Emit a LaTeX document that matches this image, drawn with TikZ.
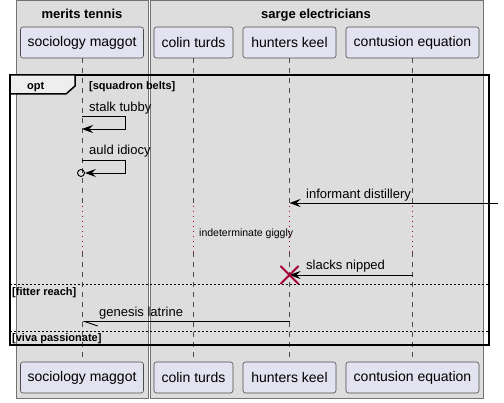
\documentclass[tikz,border=0pt]{standalone}
\usepackage{fontspec}
\setmainfont{Liberation Sans}
\usetikzlibrary{arrows.meta}

\definecolor{boxgray}{HTML}{DDDDDD}
\definecolor{tabgray}{HTML}{EEEEEE}
\definecolor{partfill}{HTML}{E2E2F0}
\definecolor{delayred}{HTML}{A80036}

\tikzset{
  grp/.style={draw=gray!90!black, fill=boxgray, line width=0.8pt},
  ttl/.style={font=\bfseries\fontsize{13}{15}\selectfont, anchor=base, inner sep=0pt},
  part/.style={draw=gray!60!black, fill=partfill, rounded corners=2.5pt, line width=0.6pt,
    minimum height=31pt, inner sep=0pt, font=\fontsize{14}{16}\selectfont},
  life/.style={gray!60!black, line width=0.6pt, dash pattern=on 5pt off 5pt},
  delay/.style={delayred, line width=0.9pt, dash pattern=on 1pt off 4pt},
  frm/.style={black, line width=1.5pt},
  sep/.style={black, line width=0.7pt, dash pattern=on 2pt off 2pt},
  grd/.style={font=\bfseries\fontsize{11}{13}\selectfont, anchor=base west, inner sep=0pt},
  lbl/.style={font=\fontsize{13}{15}\selectfont, anchor=base west, inner sep=0pt},
  msg/.style={line width=0.9pt, -{Stealth[length=11pt,width=8pt,inset=4pt]}},
  halfmsg/.style={line width=0.9pt, -{Straight Barb[left,length=13pt,width=9pt]}},
  kill/.style={delayred, line width=1.8pt},
}

\begin{document}
\begin{tikzpicture}[x=1pt,y=-1pt]
\useasboundingbox (0,0) rectangle (504,403);

% Boxes
\draw[grp] (16,0.5) rectangle (148,398);
\draw[grp] (150,0.5) rectangle (483,398);
\node[ttl] (mt) at (82,18.5) {merits tennis};
\node[ttl] (se) at (316,18.5) {sarge electricians};

% Participants
\node[part, minimum width=123pt] (sm) at (82,42.5) {sociology maggot};
\node[part, minimum width=79pt] (ct) at (193.5,42.5) {colin turds};
\node[part, minimum width=93pt] (hk) at (289.5,42.5) {hunters keel};
\node[part, minimum width=133pt] (ce) at (412.5,42.5) {contusion equation};
\node[part, minimum width=123pt] (smb) at (82,377.5) {sociology maggot};
\node[part, minimum width=79pt] (ctb) at (193.5,377.5) {colin turds};
\node[part, minimum width=93pt] (hkb) at (289.5,377.5) {hunters keel};
\node[part, minimum width=133pt] (ceb) at (412.5,377.5) {contusion equation};

% Rows
\coordinate (d1) at (0,206);
\coordinate (d2) at (0,252);
\coordinate (r1) at (0,116);
\coordinate (r2) at (0,129);
\coordinate (r3) at (0,160);
\coordinate (r4) at (0,173);
\coordinate (r5) at (0,203);
\coordinate (r6) at (0,275);
\coordinate (r7) at (0,321.5);
\coordinate (edge) at (498,203);

% Lifelines
\draw[life] (sm.south) -- (sm |- d1);
\draw[delay] (sm |- d1) -- (sm |- d2);
\draw[life] (sm |- d2) -- (smb.north);
\draw[life] (ct.south) -- (ct |- d1);
\draw[delay] (ct |- d1) -- (ct |- d2);
\draw[life] (ct |- d2) -- (ctb.north);
\draw[life] (hk.south) -- (hk |- d1);
\draw[delay] (hk |- d1) -- (hk |- d2);
\draw[life] (hk |- d2) -- (hkb.north);
\draw[life] (ce.south) -- (ce |- d1);
\draw[delay] (ce |- d1) -- (ce |- d2);
\draw[life] (ce |- d2) -- (ceb.north);

% Opt frame
\draw[frm] (10,75) rectangle (489,345);
\draw[frm, fill=tabgray] (10,75) -- (75,75) -- (75,86) -- (66,94) -- (10,94) -- cycle;
\node[grd] (opt) at (27,90) {opt};
\node[grd] (g1) at (89,90) {[squadron belts]};

% Messages
\draw[msg] (sm |- r1) -- ++(43,0) |- (sm |- r2);
\node[lbl] (m1) at (89,111.5) {stalk tubby};
\node[circle, draw, line width=0.9pt, minimum size=7pt, inner sep=0pt] (oc) at (81,173) {};
\draw[msg] (sm |- r3) -- ++(43,0) |- (oc.east);
\node[lbl] (m2) at (89,155) {auld idiocy};
\draw[msg] (edge) -- (hk |- r5);
\node[lbl] (m3) at (306,198.5) {informant distillery};
\node[lbl, font=\fontsize{10.5}{12}\selectfont] (dl) at (199,237) {indeterminate giggly};
\draw[msg] (ce |- r6) -- (hk |- r6);
\node[lbl] (m4) at (306,270) {slacks nipped};
\draw[kill] (hk |- r6) +(-9,-9) -- +(9,9) +(-9,9) -- +(9,-9);

% Else parts
\draw[sep] (10,284) -- (489,284);
\node[grd] (g2) at (12,296) {[fitter reach]};
\draw[halfmsg] (hk |- r7) -- (sm |- r7);
\node[lbl] (m5) at (99,317) {genesis latrine};
\draw[sep] (10,331) -- (489,331);
\node[grd] (g3) at (12,341.5) {[viva passionate]};
\end{tikzpicture}
\end{document}
